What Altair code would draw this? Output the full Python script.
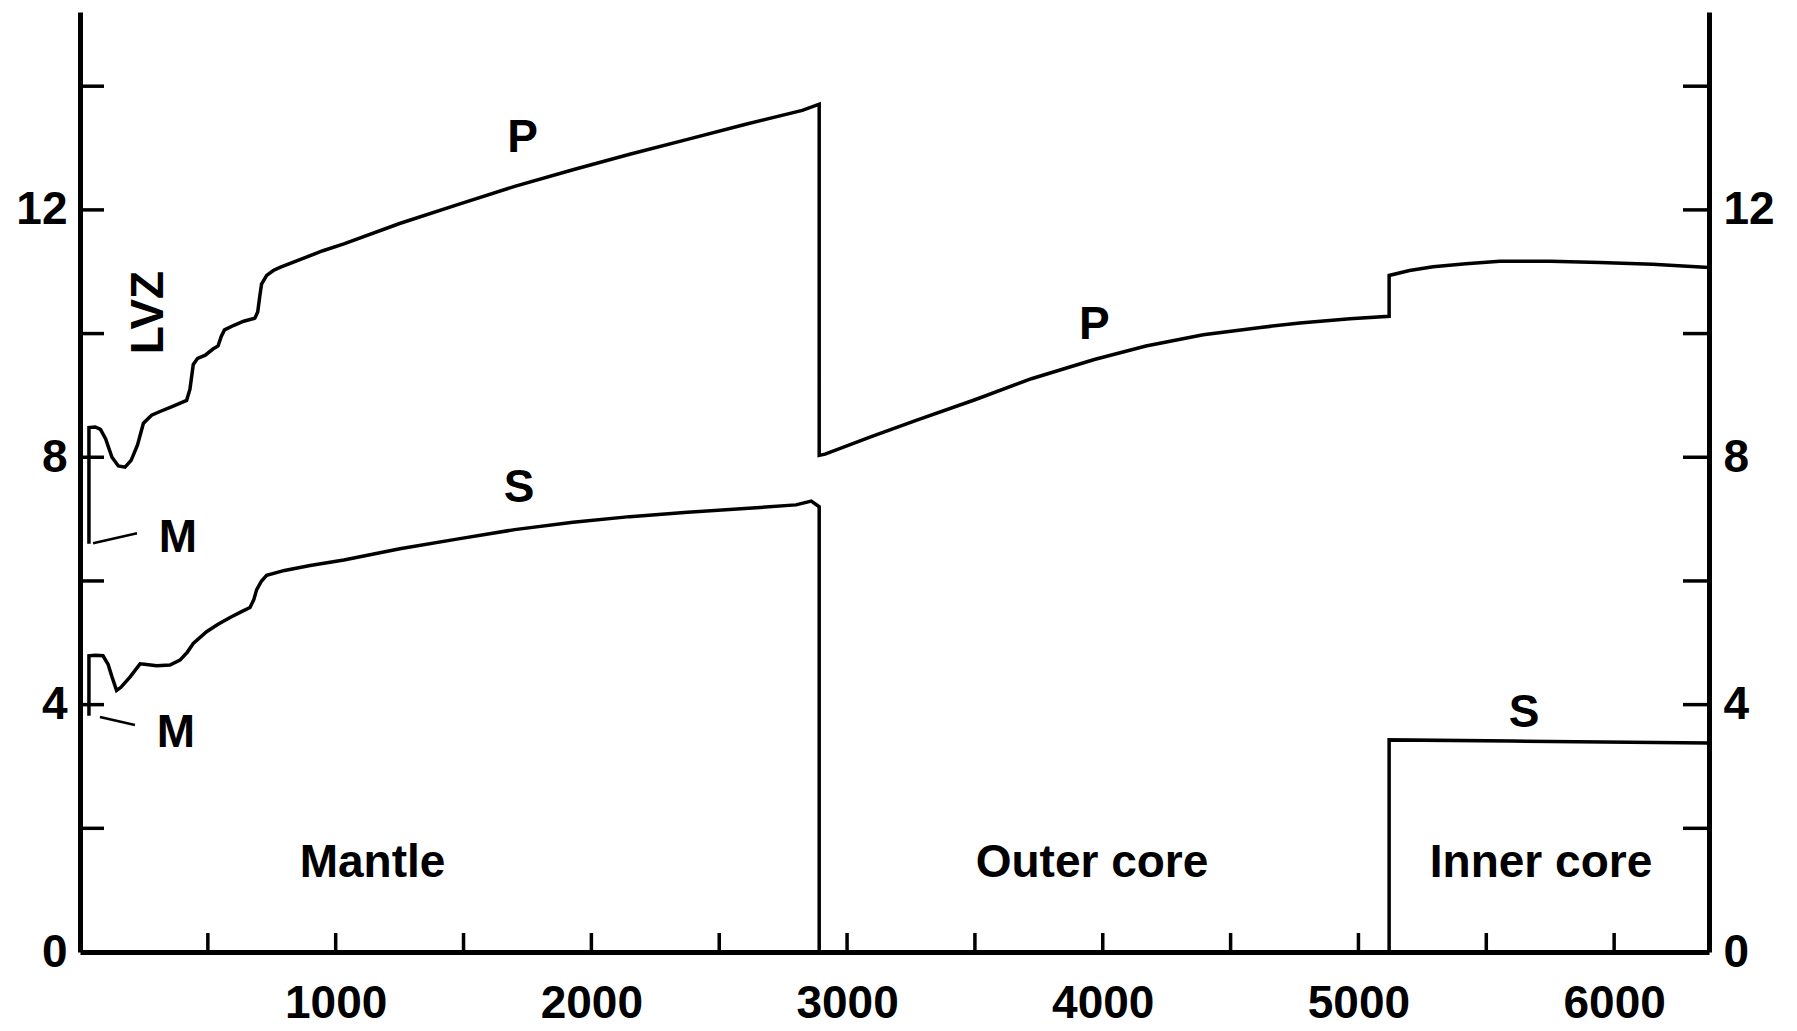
import altair as alt
import pandas as pd

# ---------------- data ----------------
# depth (km) and velocity (km/s)
p_depth = [35, 35, 60, 80, 100, 125, 150, 176, 200, 225, 248, 280, 313, 360, 417,
           430, 443, 460, 490, 520, 540, 552, 565, 600, 640, 684, 695, 703, 710, 730,
           756, 782, 850, 950, 1032, 1250, 1480, 1700, 1928, 2150, 2376, 2600, 2825,
           2891, 2891, 2914, 3100, 3273, 3500, 3721, 3967, 4169, 4393, 4617, 4771,
           4967, 5120, 5120, 5200, 5292, 5420, 5553, 5750, 5944, 6150, 6371]
p_vel = [6.60, 8.48, 8.49, 8.45, 8.30, 8.00, 7.86, 7.84, 7.95, 8.20, 8.55, 8.68, 8.74,
         8.82, 8.92, 9.10, 9.50, 9.60, 9.65, 9.75, 9.80, 9.95, 10.06, 10.13, 10.20,
         10.25, 10.35, 10.60, 10.80, 10.94, 11.02, 11.07, 11.18, 11.34, 11.45, 11.78,
         12.09, 12.38, 12.65, 12.90, 13.14, 13.38, 13.61, 13.71, 8.03, 8.05, 8.34,
         8.60, 8.93, 9.27, 9.58, 9.80, 9.98, 10.10, 10.17, 10.24, 10.28, 10.94, 11.02,
         11.08, 11.13, 11.17, 11.17, 11.15, 11.12, 11.07]

s_depth = [35, 35, 60, 90, 110, 125, 143, 160, 196, 235, 260, 300, 352, 391, 420, 443,
           495, 540, 587, 630, 665, 680, 691, 710, 730, 800, 900, 1032, 1251, 1480,
           1700, 1928, 2150, 2376, 2600, 2800, 2860, 2891, 2891, 5120, 5120, 5600, 6371]
s_vel = [3.82, 4.79, 4.80, 4.79, 4.65, 4.45, 4.23, 4.28, 4.45, 4.66, 4.65, 4.63, 4.64,
         4.72, 4.85, 4.99, 5.18, 5.30, 5.41, 5.50, 5.57, 5.70, 5.86, 6.00, 6.09, 6.17,
         6.25, 6.34, 6.52, 6.68, 6.83, 6.95, 7.04, 7.11, 7.17, 7.23, 7.29, 7.20, 0.0,
         0.0, 3.43, 3.41, 3.38]

# Moho leader lines ("M")
lead_seg = ["upper", "upper", "lower", "lower"]
lead_depth = [51, 223, 78, 215]
lead_vel = [6.61, 6.77, 3.80, 3.67]

# text annotations
ann_text = ["P", "S", "P", "S", "M", "M", "Mantle", "Outer core", "Inner core"]
ann_depth = [1731, 1717, 3967, 5648, 383, 375, 1144, 3958, 5714]
ann_vel = [13.16, 7.51, 10.14, 3.86, 6.70, 3.54, 1.44, 1.44, 1.44]
lvz_text = ["LVZ"]
lvz_depth = [270]
lvz_vel = [10.34]

x_label_values = [1000, 2000, 3000, 4000, 5000, 6000]
x_tick_values = [500, 1000, 1500, 2000, 2500, 3000, 3500, 4000, 4500, 5000, 5500, 6000]
y_label_values = [0, 4, 8, 12]
y_tick_values = [2, 4, 6, 8, 10, 12, 14]

# ---------------- chart ----------------
W, H = 1629, 940
FONT = "Liberation Sans"
FS = 46
LW = 3.5
AXW = 5

xscale = alt.Scale(domain=[0, 6371], nice=False, zero=False)
yscale = alt.Scale(domain=[0, 15.2], nice=False, zero=False)

xaxis = alt.Axis(values=x_label_values, title=None, ticks=False, tickSize=0, grid=False,
                 domainColor="black", domainWidth=AXW, labelFontSize=FS,
                 labelFontWeight="bold", labelFont=FONT, labelColor="black",
                 labelPadding=29, labelFlush=False, labelOverlap=False, format="d")
yaxis_left = alt.Axis(values=y_label_values, title=None, ticks=False, tickSize=0,
                      grid=False, domainColor="black", domainWidth=AXW,
                      labelFontSize=FS, labelFontWeight="bold", labelFont=FONT,
                      labelColor="black", labelPadding=13, orient="left",
                      labelFlush=False, labelOverlap=False, format="d")
yaxis_right = alt.Axis(values=y_label_values, title=None, ticks=False, tickSize=0,
                       grid=False, domainColor="black", domainWidth=AXW,
                       labelFontSize=FS, labelFontWeight="bold", labelFont=FONT,
                       labelColor="black", labelPadding=14, orient="right",
                       labelFlush=False, labelOverlap=False, format="d")


def X(field="depth"):
    return alt.X(f"{field}:Q", scale=xscale, axis=xaxis)


p_df = pd.DataFrame({"depth": p_depth, "v": p_vel, "i": range(len(p_depth))})
s_df = pd.DataFrame({"depth": s_depth, "v": s_vel, "i": range(len(s_depth))})
lead_df = pd.DataFrame({"depth": lead_depth, "v": lead_vel, "seg": lead_seg})
ann_df = pd.DataFrame({"depth": ann_depth, "v": ann_vel, "t": ann_text})
lvz_df = pd.DataFrame({"depth": lvz_depth, "v": lvz_vel, "t": lvz_text})
xt_df = pd.DataFrame({"t": x_tick_values})
yt_df = pd.DataFrame({"t": y_tick_values})

p_line = alt.Chart(p_df).mark_line(color="black", strokeWidth=LW).encode(
    x=X(), y=alt.Y("v:Q", scale=yscale, axis=yaxis_left), order="i:Q")
s_line = alt.Chart(s_df).mark_line(color="black", strokeWidth=LW).encode(
    x=X(), y=alt.Y("v:Q", scale=yscale, axis=yaxis_right), order="i:Q")
leads = alt.Chart(lead_df).mark_line(color="black", strokeWidth=2.5).encode(
    x=X(), y=alt.Y("v:Q", scale=yscale, axis=None), detail="seg:N")

text_kw = dict(font=FONT, fontSize=FS, fontWeight="bold", color="black",
               align="center", baseline="middle")
ann = alt.Chart(ann_df).mark_text(**text_kw).encode(
    x=X(), y=alt.Y("v:Q", scale=yscale, axis=None), text="t:N")
lvz = alt.Chart(lvz_df).mark_text(angle=270, **text_kw).encode(
    x=X(), y=alt.Y("v:Q", scale=yscale, axis=None), text="t:N")

x_ticks = alt.Chart(xt_df).mark_rule(color="black", strokeWidth=LW).encode(
    x=X("t"), y=alt.value(H - 19), y2=alt.value(H))
yl_ticks = alt.Chart(yt_df).mark_rule(color="black", strokeWidth=LW).encode(
    y=alt.Y("t:Q", scale=yscale, axis=None), x=alt.value(0), x2=alt.value(24))
yr_ticks = alt.Chart(yt_df).mark_rule(color="black", strokeWidth=LW).encode(
    y=alt.Y("t:Q", scale=yscale, axis=None), x=alt.value(W - 26), x2=alt.value(W))

chart = alt.layer(p_line, s_line, leads, ann, lvz, x_ticks, yl_ticks, yr_ticks).resolve_axis(
    y="independent"
).properties(
    width=W, height=H,
    padding={"left": 72, "top": 4, "right": 80, "bottom": 80},
    autosize=alt.AutoSizeParams(type="none"),
    background="white",
).configure_view(stroke=None)

chart.save("out.html", embed_options={"renderer": "svg", "actions": False})
